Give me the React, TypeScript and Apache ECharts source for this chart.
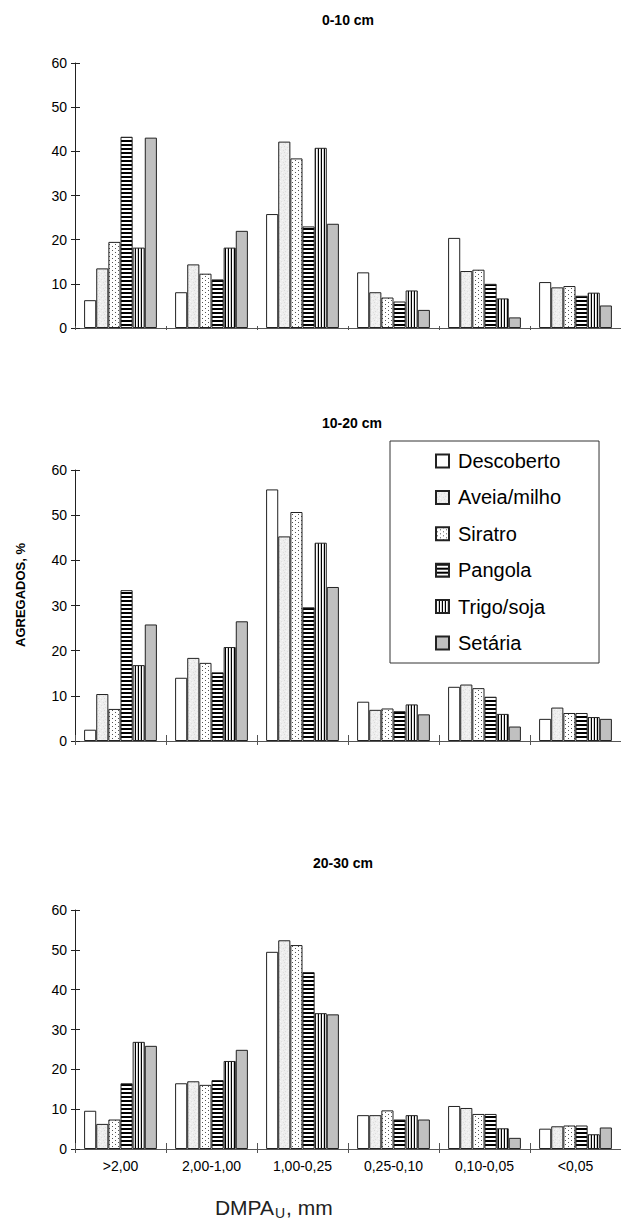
import React, { useEffect, useRef } from 'react';
import * as echarts from 'echarts';

// ---------- data ----------
const categories = ['>2,00', '2,00-1,00', '1,00-0,25', '0,25-0,10', '0,10-0,05', '<0,05'];
const treatments = ['Descoberto', 'Aveia/milho', 'Siratro', 'Pangola', 'Trigo/soja', 'Setária'];
const depthTitles = ['0-10 cm', '10-20 cm', '20-30 cm'];

// rows = treatments (same order as `treatments`), columns = categories
const values0to10 = [
  [6.3, 8.1, 25.8, 12.6, 20.4, 10.4],
  [13.5, 14.4, 42.2, 8.1, 12.9, 9.2],
  [19.5, 12.3, 38.4, 6.9, 13.2, 9.5],
  [43.3, 11.0, 23.0, 6.0, 10.0, 7.3],
  [18.2, 18.2, 40.8, 8.5, 6.7, 8.0],
  [43.1, 22.0, 23.6, 4.1, 2.4, 5.1],
];
const values10to20 = [
  [2.5, 14.0, 55.7, 8.7, 12.0, 4.9],
  [10.4, 18.4, 45.3, 6.9, 12.5, 7.4],
  [7.1, 17.3, 50.7, 7.2, 11.7, 6.2],
  [33.4, 15.2, 29.6, 6.6, 9.8, 6.2],
  [16.8, 20.8, 43.9, 8.1, 6.0, 5.3],
  [25.8, 26.5, 34.1, 5.9, 3.2, 4.9],
];
const values20to30 = [
  [9.6, 16.5, 49.5, 8.5, 10.8, 5.1],
  [6.3, 17.0, 52.4, 8.5, 10.3, 5.7],
  [7.4, 16.1, 51.2, 9.7, 8.8, 5.9],
  [16.5, 17.3, 44.4, 7.4, 8.8, 5.9],
  [26.9, 22.1, 34.1, 8.5, 5.2, 3.7],
  [25.9, 24.9, 33.8, 7.4, 2.8, 5.4],
];
const yMin = 0;
const yMax = 60;
const yStep = 10;
const yAxisName = 'AGREGADOS, %';
const xAxisNameMain = 'DMPA';
const xAxisNameSub = 'U';
const xAxisNameTail = ', mm';

const FONT = '"Liberation Sans", Arial, sans-serif';

// ---------- fill patterns ----------
function makeCanvas(w: number, h: number, draw: (ctx: CanvasRenderingContext2D) => void) {
  const c = document.createElement('canvas');
  c.width = w;
  c.height = h;
  const ctx = c.getContext('2d')!;
  draw(ctx);
  return c;
}
function px(ctx: CanvasRenderingContext2D, x: number, y: number, color: string) {
  ctx.fillStyle = color;
  ctx.fillRect(x, y, 1, 1);
}
function pattern(c: HTMLCanvasElement) {
  return { image: c, repeat: 'repeat', imageWidth: c.width, imageHeight: c.height } as any;
}
function buildFills(): any[] {
  const aveia = makeCanvas(6, 6, (ctx) => {
    ctx.fillStyle = '#eeeeee';
    ctx.fillRect(0, 0, 6, 6);
    px(ctx, 1, 0, '#dedede');
    px(ctx, 4, 1, '#f9f9f9');
    px(ctx, 2, 2, '#dadada');
    px(ctx, 5, 3, '#e0e0e0');
    px(ctx, 0, 4, '#f7f7f7');
    px(ctx, 3, 5, '#dcdcdc');
  });
  const siratro = makeCanvas(6, 4, (ctx) => {
    ctx.fillStyle = '#ffffff';
    ctx.fillRect(0, 0, 6, 4);
    px(ctx, 1, 0, '#555555');
    px(ctx, 4, 2, '#555555');
  });
  const pangola = makeCanvas(4, 4, (ctx) => {
    ctx.fillStyle = '#000000';
    ctx.fillRect(0, 0, 4, 2);
    ctx.fillStyle = '#ffffff';
    ctx.fillRect(0, 2, 4, 2);
  });
  const trigo = makeCanvas(3, 4, (ctx) => {
    ctx.fillStyle = '#000000';
    ctx.fillRect(0, 0, 1, 4);
    ctx.fillStyle = '#ffffff';
    ctx.fillRect(1, 0, 1, 4);
    ctx.fillStyle = '#cccccc';
    ctx.fillRect(2, 0, 1, 4);
  });
  return ['#ffffff', pattern(aveia), pattern(siratro), pattern(pangola), pattern(trigo), '#c0c0c0'];
}

export default function App() {
  const ref = useRef<HTMLDivElement>(null);

  useEffect(() => {
    if (!ref.current) return;
    const chart = echarts.init(ref.current, undefined, { renderer: 'svg' });
    const fills = buildFills();
    const panels = [values0to10, values10to20, values20to30];
    const grids = [
      { left: 75, right: 0, top: 63, height: 265 },
      { left: 75, right: 0, top: 470, height: 271 },
      { left: 75, right: 0, top: 910, height: 239 },
    ];

    const xAxis: any[] = [];
    const yAxis: any[] = [];
    const series: any[] = [];
    panels.forEach((vals, i) => {
      xAxis.push({
        type: 'category',
        gridIndex: i,
        data: categories,
        position: 'bottom',
        axisLine: { show: true, lineStyle: { color: '#555', width: 1 } },
        axisTick: { show: true, length: i === 0 ? 2 : 4, lineStyle: { color: '#555' } },
        axisLabel: { show: i === 2, fontSize: 14, color: '#000', margin: 10, fontFamily: FONT },
        splitLine: { show: false },
      });
      xAxis.push({
        type: 'category',
        gridIndex: i,
        data: categories,
        position: 'bottom',
        axisLine: { show: false },
        axisTick: { show: true, inside: true, length: i === 0 ? 2 : 6, lineStyle: { color: '#555' } },
        axisLabel: { show: false },
        splitLine: { show: false },
      });
      yAxis.push({
        type: 'value',
        gridIndex: i,
        min: yMin,
        max: yMax,
        interval: yStep,
        axisLine: { show: true, lineStyle: { color: '#222', width: 1 } },
        axisTick: { show: true, length: 4, lineStyle: { color: '#222' } },
        axisLabel: { fontSize: 14, color: '#000', margin: 8, fontFamily: FONT },
        splitLine: { show: false },
      });
      yAxis.push({
        type: 'value',
        gridIndex: i,
        min: yMin,
        max: yMax,
        interval: yStep,
        position: 'left',
        axisLine: { show: false },
        axisTick: { show: true, inside: true, length: 5, lineStyle: { color: '#222' } },
        axisLabel: { show: false },
        splitLine: { show: false },
      });
      vals.forEach((row, j) => {
        series.push({
          type: 'bar',
          name: treatments[j],
          xAxisIndex: i * 2,
          yAxisIndex: i * 2,
          data: row,
          barGap: '0%',
          barCategoryGap: '20%',
          itemStyle: { color: fills[j], borderColor: '#222', borderWidth: 1 },
        });
      });
    });

    const titlePos = [
      [348, 20],
      [352, 423],
      [343, 863],
    ];

    chart.setOption({
      animation: false,
      backgroundColor: '#ffffff',
      grid: grids,
      xAxis,
      yAxis,
      series,
      legend: {
        data: treatments,
        orient: 'vertical',
        left: 390,
        top: 441,
        padding: [9, 38, 9, 45],
        itemGap: 14.4,
        itemWidth: 13,
        itemHeight: 13,
        icon: 'rect',
        selectedMode: false,
        borderColor: '#333',
        borderWidth: 1,
        backgroundColor: '#fff',
        textStyle: { fontSize: 20, lineHeight: 22, color: '#000', fontFamily: FONT, padding: [0, 0, 0, 4] },
      },
      graphic: [
        ...depthTitles.map((t, k) => ({
          type: 'text',
          x: titlePos[k][0],
          y: titlePos[k][1],
          style: {
            text: t,
            font: `bold 14px ${FONT}`,
            fill: '#000',
            textAlign: 'center',
            textVerticalAlign: 'middle',
          },
        })),
        {
          type: 'text',
          x: 20,
          y: 595,
          rotation: Math.PI / 2,
          style: {
            text: yAxisName,
            font: `bold 13px ${FONT}`,
            fill: '#000',
            textAlign: 'center',
            textVerticalAlign: 'middle',
          },
        },
        {
          type: 'text',
          x: 274,
          y: 1207,
          style: {
            text: xAxisNameMain,
            font: `21px ${FONT}`,
            fill: '#222',
            textAlign: 'right',
            textVerticalAlign: 'middle',
          },
        },
        {
          type: 'text',
          x: 275,
          y: 1213,
          style: {
            text: xAxisNameSub,
            font: `14px ${FONT}`,
            fill: '#222',
            textAlign: 'left',
            textVerticalAlign: 'middle',
          },
        },
        {
          type: 'text',
          x: 286,
          y: 1207,
          style: {
            text: xAxisNameTail,
            font: `21px ${FONT}`,
            fill: '#222',
            textAlign: 'left',
            textVerticalAlign: 'middle',
          },
        },
      ],
    });

    return () => chart.dispose();
  }, []);

  return (
    <div
      ref={ref}
      style={{ position: 'absolute', left: 0, top: 0, width: 621, height: 1229, background: '#fff' }}
    />
  );
}
